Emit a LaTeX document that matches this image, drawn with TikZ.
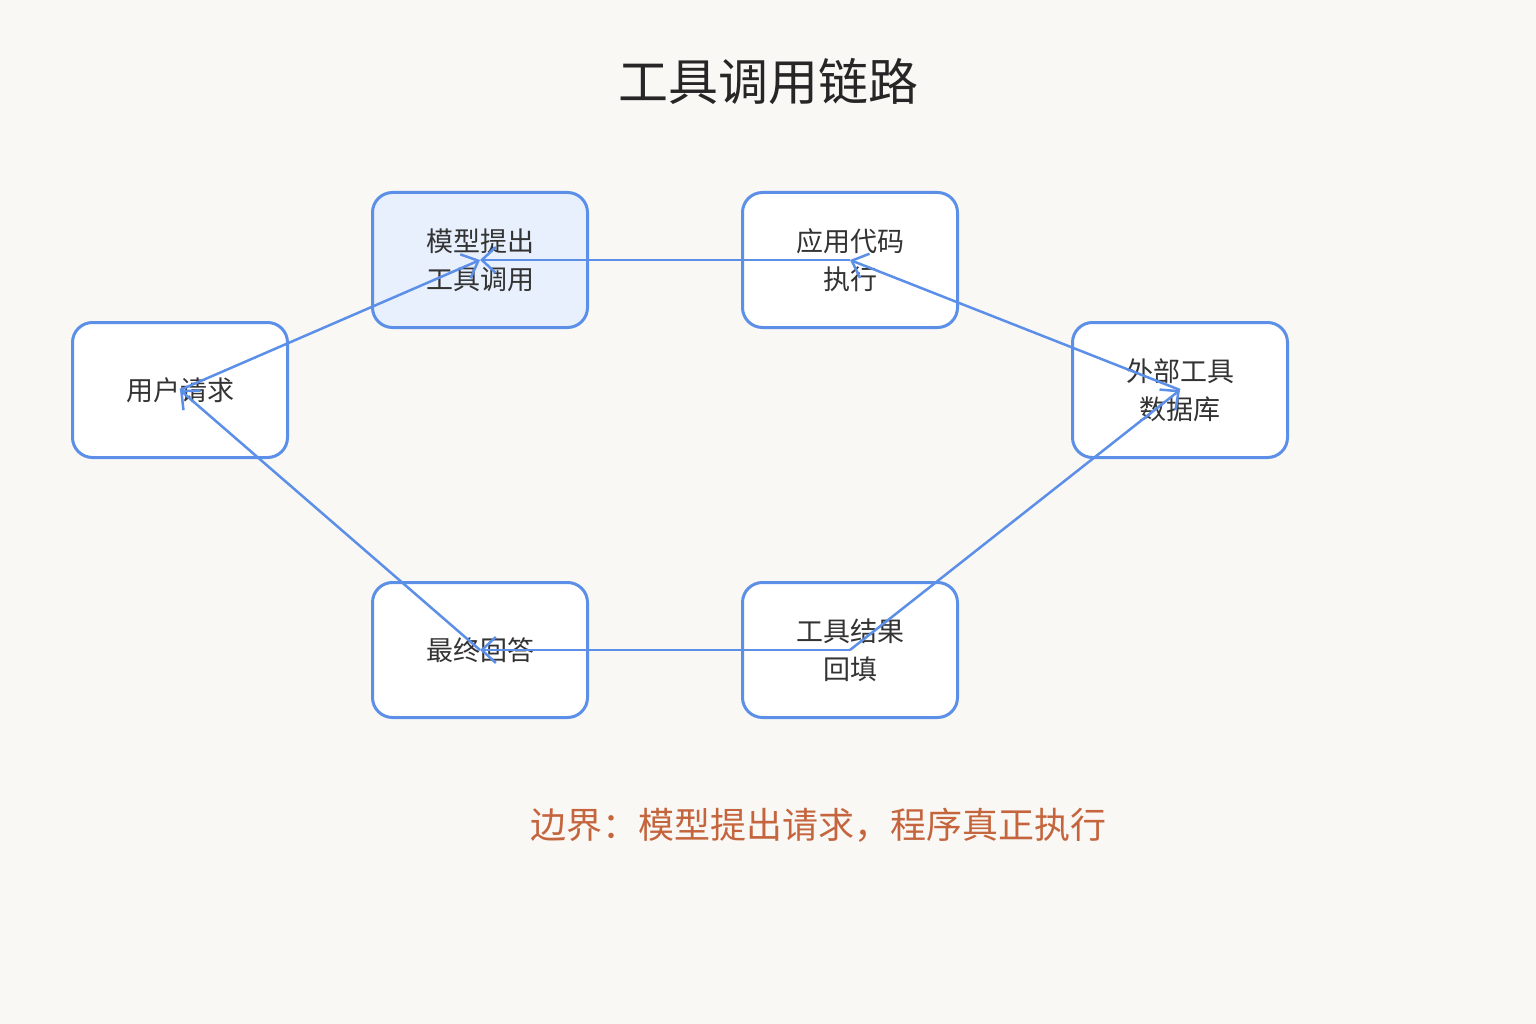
\documentclass[tikz,border=0pt]{standalone}
\usepackage{fontspec}
\setmainfont{Noto Sans CJK SC}
\usetikzlibrary{arrows.meta}
\definecolor{bg}{HTML}{FAF8F5}
\definecolor{bl}{HTML}{5B8FE8}
\definecolor{lf}{HTML}{E8F0FE}
\definecolor{note}{HTML}{C4653E}
\begin{document}
\begin{tikzpicture}[x=1pt,y=-1pt,
 box/.style={draw=bl,line width=3pt,rounded corners=20pt,minimum width=215pt,minimum height=135pt,fill=white,align=center,font=\fontsize{27}{38}\selectfont,text=black!80},
 ar/.style={draw=bl,line width=2.5pt,-{Straight Barb[length=14pt,width=26pt,line width=2.5pt]}}]
\fill[bg] (0,0) rectangle (1536,1024);
\node[font=\fontsize{50}{60}\selectfont,text=black!85] (t) at (768,82) {工具调用链路};
\node[box] (u) at (180,390) {用户请求};
\node[box,fill=lf] (m) at (480,260) {模型提出\\工具调用};
\node[box] (a) at (850,260) {应用代码\\执行};
\node[box] (e) at (1180,390) {外部工具\\数据库};
\node[box] (r) at (850,650) {工具结果\\回填};
\node[box] (f) at (480,650) {最终回答};
\draw[ar] (u.center) -- (m.center);
\draw[ar] (a.center) -- (m.center);
\draw[ar] (e.center) -- (a.center);
\draw[ar] (r.center) -- (e.center);
\draw[ar] (r.center) -- (f.center);
\draw[ar] (f.center) -- (u.center);
\node[font=\fontsize{36}{44}\selectfont,text=note] (n) at (818,825) {边界：模型提出请求，程序真正执行};
\end{tikzpicture}
\end{document}
